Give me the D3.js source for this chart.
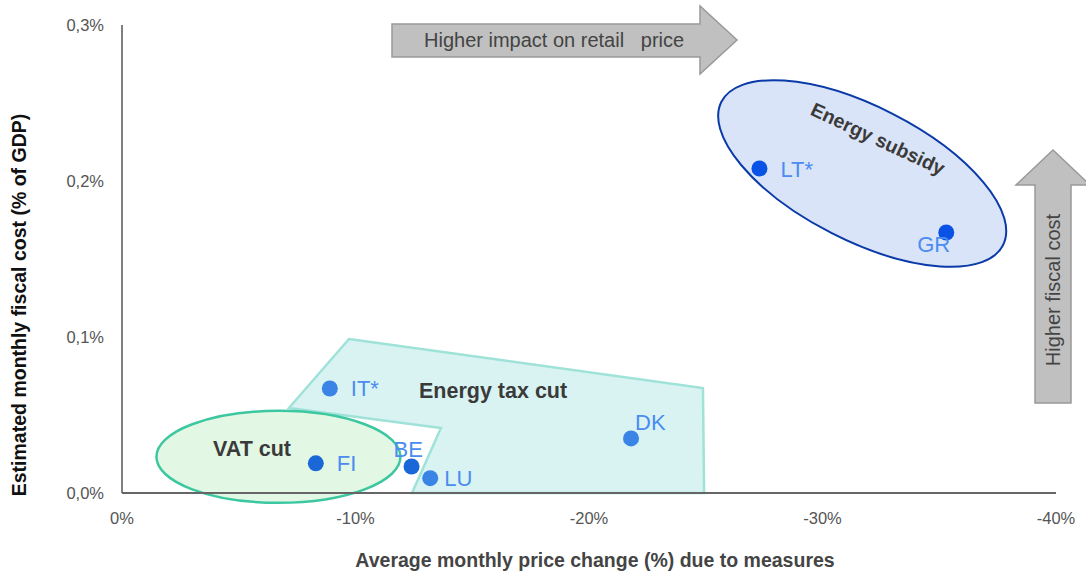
<!DOCTYPE html>
<html>
<head>
<meta charset="utf-8">
<script src="https://cdn.jsdelivr.net/npm/d3@7"></script>
<style>
  body { margin: 0; background: #fff; }
  svg { font-family: "Liberation Sans", Arial, sans-serif; }
</style>
</head>
<body>
<svg width="1086" height="574"></svg>
<script>
// data: price change (%) and fiscal cost (% of GDP)
var countries = ["LT*", "GR", "IT*", "FI", "BE", "LU", "DK"];
var priceChange = [-27.3, -35.3, -8.9, -8.3, -12.4, -13.2, -21.8];
var fiscalCost = [0.208, 0.167, 0.067, 0.019, 0.017, 0.0095, 0.035];
var measure = ["subsidy", "subsidy", "tax", "vat", "vat", "tax", "tax"];
var xTicks = [0, -10, -20, -30, -40];
var yTicks = [0, 0.1, 0.2, 0.3];
// outline of the "Energy tax cut" group, in data units
var taxCutX = [-9.72, -24.88, -24.93, -12.42, -13.66, -7.15];
var taxCutY = [0.0987, 0.0673, 0, 0, 0.0417, 0.0545];

var svg = d3.select("svg");
var x = d3.scaleLinear().domain([0, -40]).range([122, 1056]);
var y = d3.scaleLinear().domain([0, 0.3]).range([493, 25]);

var dotColor = { subsidy: "#0a52e6", tax: "#3a84e6", vat: "#1a68d8" };
var labelColor = "#4a8cf0";

// groups (drawn first, under the points)
var taxPts = taxCutX.map(function(d, i) { return [x(d), y(taxCutY[i])]; });
svg.append("path")
  .attr("d", "M" + taxPts.join("L") + "Z")
  .attr("fill", "#d9f3f3").attr("stroke", "#9fe2d8").attr("stroke-width", 2.5);

svg.append("ellipse")
  .attr("cx", x(-6.7)).attr("cy", y(0.0232))
  .attr("rx", 122).attr("ry", 46)
  .attr("fill", "#e2f8e4").attr("stroke", "#3cc7a0").attr("stroke-width", 2.5);

svg.append("ellipse")
  .attr("transform", "translate(" + x(-31.7) + "," + y(0.2048) + ") rotate(27)")
  .attr("rx", 158).attr("ry", 67)
  .attr("fill", "#dae4f8").attr("stroke", "#0a3aa8").attr("stroke-width", 2);

// axes
svg.append("line").attr("x1", x(0)).attr("x2", x(0)).attr("y1", y(0.3)).attr("y2", y(0))
  .attr("stroke", "#555").attr("stroke-width", 1.5);
svg.append("line").attr("x1", x(0)).attr("x2", x(-40)).attr("y1", y(0)).attr("y2", y(0))
  .attr("stroke", "#666").attr("stroke-width", 2);

svg.selectAll(".xt").data(xTicks).enter().append("text")
  .attr("x", function(d) { return x(d); }).attr("y", 524)
  .attr("text-anchor", "middle").attr("font-size", 16.5).attr("fill", "#555")
  .text(function(d) { return d + "%"; });

svg.selectAll(".yt").data(yTicks).enter().append("text")
  .attr("x", 104).attr("y", function(d) { return y(d) + 6; })
  .attr("text-anchor", "end").attr("font-size", 16.5).attr("fill", "#555")
  .text(function(d) { return d3.format(".1f")(d).replace(".", ",") + "%"; });

svg.append("text")
  .attr("transform", "translate(26,305) rotate(-90)")
  .attr("text-anchor", "middle").attr("font-size", 19.5).attr("font-weight", "bold").attr("fill", "#111")
  .text("Estimated monthly fiscal cost (% of GDP)");

svg.append("text")
  .attr("x", 595).attr("y", 567)
  .attr("text-anchor", "middle").attr("font-size", 19.5).attr("font-weight", "bold").attr("fill", "#444")
  .text("Average monthly price change (%) due to measures");

// arrows
var hArrow = [[392, 24], [700, 24], [700, 6], [737, 40], [700, 74], [700, 57], [392, 57]];
svg.append("path").attr("d", "M" + hArrow.join("L") + "Z")
  .attr("fill", "#c0c0c0").attr("stroke", "#999").attr("stroke-width", 1.5);
svg.append("text").attr("x", 424).attr("y", 47).attr("font-size", 20).attr("fill", "#444")
  .attr("xml:space", "preserve").text("Higher impact on retail   price");

var vArrow = [[1035, 403], [1035, 185], [1016, 185], [1053, 150], [1090, 185], [1071, 185], [1071, 403]];
svg.append("path").attr("d", "M" + vArrow.join("L") + "Z")
  .attr("fill", "#c0c0c0").attr("stroke", "#999").attr("stroke-width", 1.5);
svg.append("text").attr("transform", "translate(1060,290) rotate(-90)")
  .attr("text-anchor", "middle").attr("font-size", 20).attr("fill", "#444")
  .text("Higher fiscal cost");

// group labels
svg.append("text").attr("x", 213).attr("y", 456).attr("font-size", 21.5).attr("font-weight", "bold")
  .attr("fill", "#3a3a3a").text("VAT cut");
svg.append("text").attr("x", 419).attr("y", 398).attr("font-size", 21.5).attr("font-weight", "bold")
  .attr("fill", "#3a3a3a").text("Energy tax cut");
svg.append("text").attr("transform", "translate(875,145) rotate(25)")
  .attr("text-anchor", "middle").attr("font-size", 19.5).attr("font-weight", "bold")
  .attr("fill", "#3a3a3a").text("Energy subsidy");

// points
var pts = countries.map(function(c, i) {
  return { name: c, px: priceChange[i], fc: fiscalCost[i], m: measure[i] };
});
svg.selectAll(".dot").data(pts).enter().append("circle")
  .attr("cx", function(d) { return x(d.px); })
  .attr("cy", function(d) { return y(d.fc); })
  .attr("r", 8)
  .attr("fill", function(d) { return dotColor[d.m]; });

// label offsets relative to the point
var labelOff = { "LT*": [21, 8], "GR": [-29, 20], "IT*": [21, 8], "FI": [21, 8],
  "BE": [-18, -9], "LU": [14, 8], "DK": [4, -8] };
svg.selectAll(".lab").data(pts).enter().append("text")
  .attr("x", function(d) { return x(d.px) + labelOff[d.name][0]; })
  .attr("y", function(d) { return y(d.fc) + labelOff[d.name][1]; })
  .attr("font-size", 22).attr("fill", labelColor)
  .text(function(d) { return d.name; });
</script>
</body>
</html>
